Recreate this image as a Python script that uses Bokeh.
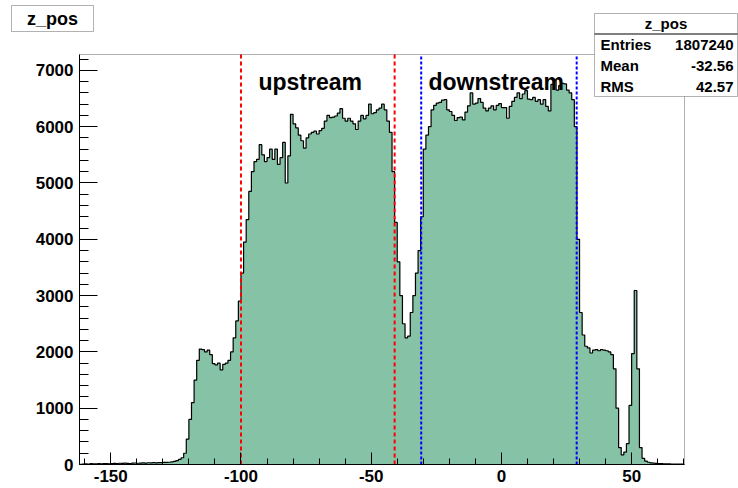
import numpy as np
from bokeh.plotting import figure
from bokeh.models import (Range1d, SingleIntervalTicker, Label, BoxAnnotation,
                          PrintfTickFormatter)
from bokeh.embed import file_html
from bokeh.resources import INLINE

# ---------------- data ----------------
z_low = -162.0        # lower edge of first bin
z_bin_width = 1.0

counts_left_tail = [4, 8, 11, 9, 14, 12, 10, 16, 13, 18,
                    15, 12, 17, 20, 16, 22, 19, 24, 21, 18,
                    23, 27, 22, 25, 29, 26, 31, 28, 33, 30,
                    35, 32, 37, 38]                                   # -162 .. -129
counts_upstream_a = [40, 45, 55, 70, 90, 120, 200, 450, 800, 1100,
                     1500, 1850, 2050, 2040, 2000, 2030, 1950, 1790, 1770, 1800,
                     1680, 1780, 1800, 1850, 2000, 2250, 2550, 2900, 3400, 3950,
                     4350, 4850, 5200, 5380, 5420, 5680, 5500, 5380, 5450, 5600,
                     5420, 5600, 5330, 5450, 5720, 5000, 5480, 6220, 6050]  # -128 .. -80
counts_upstream_b = [5980, 5850, 5750, 5620, 5800, 5870, 5900, 5920, 5870, 5930,
                     5970, 6100, 6200, 6160, 6170, 6190, 6240, 6320, 6150, 6100,
                     6150, 6100, 6050, 5950, 6100, 6200, 6140, 6200, 6400, 6230,
                     6250, 6300, 6330, 6400, 6300, 6100, 5900]        # -79 .. -43
counts_gap = [5200, 4300, 3600, 3000, 2500, 2250, 2280, 2700, 3000, 3400,
              3800, 4400, 5600]                                       # -42 .. -30
counts_downstream = [5850, 6000, 6300, 6380, 6420, 6430, 6470, 6480, 6300, 6270,
                     6200, 6110, 6160, 6170, 6120, 6260, 6370, 6600, 6400, 6420,
                     6500, 6430, 6330, 6280, 6330, 6370, 6300, 6380, 6410, 6340,
                     6340, 6150, 6360, 6450, 6520, 6600, 6500, 6580, 6640, 6490,
                     6480, 6520, 6450, 6480, 6400, 6480, 6360, 6280, 6750, 6830,
                     6650, 6730, 6770, 6760, 6650, 6600, 6480, 6000]  # -29 .. 28
counts_right = [4000, 2700, 2300, 2100, 2070, 1980, 2030, 2040, 2020, 2040,
                2030, 2020, 2000, 1950, 1700, 1000, 300, 170, 220, 370,
                1050, 1970, 3090, 1700, 300, 110, 60, 40, 30, 25,
                20, 18, 15, 12, 10, 10, 8, 8, 6, 5, 5]                # 29 .. 69

counts = (counts_left_tail + counts_upstream_a + counts_upstream_b +
          counts_gap + counts_downstream + counts_right)

x_axis_range = [-162.0, 70.3]
y_axis_range = [0.0, 7282.0]

upstream_edges = [-100.0, -41.0]
downstream_edges = [-30.8, 28.9]

stats_title = "z_pos"
stats_names = ["Entries", "Mean", "RMS"]
stats_values = ["1807240", "-32.56", "42.57"]

# ---------------- geometry (page pixels) ----------------
FONT = "Liberation Sans"
OFF = 0                              # canvas offset on the page
W, H = 738, 488
FR_L, FR_R, FR_T, FR_B = 79, 684, 54, 464   # ROOT-style frame on the page

ux = (FR_R - FR_L) / (x_axis_range[1] - x_axis_range[0])
uy = (FR_B - FR_T) / (y_axis_range[1] - y_axis_range[0])
x_start = x_axis_range[0] - (FR_L - OFF) / ux
x_end = x_axis_range[1] + (OFF + W - FR_R) / ux
y_end = y_axis_range[1] + (FR_T - OFF) / uy
y_start = y_axis_range[0] - (OFF + H - FR_B) / uy

def sx(px):
    return px - OFF

def sy(py):
    return OFF + H - py

edges = z_low + z_bin_width * np.arange(len(counts) + 1)
ys = np.array(counts + [counts[-1]], dtype=float)

p = figure(width=W, height=H,
           x_range=Range1d(x_start, x_end), y_range=Range1d(y_start, y_end),
           output_backend="svg", toolbar_location=None,
           min_border_left=0, min_border_right=0, min_border_top=0, min_border_bottom=0)
p.grid.visible = False
p.outline_line_color = None
p.background_fill_color = "white"
p.border_fill_color = "white"

p.varea_step(x=edges, y1=np.zeros(len(edges)), y2=ys, step_mode="after",
             fill_color="#85c2a6")
p.step(x=edges, y=ys, mode="after", line_color="black", line_width=1.2)

# ROOT frame
p.add_layout(BoxAnnotation(left=x_axis_range[0], right=x_axis_range[1],
                           bottom=y_axis_range[0], top=y_axis_range[1],
                           fill_color=None, line_color="black", line_width=1))

# axes, pinned to the frame edges
p.xaxis.fixed_location = y_axis_range[0]
p.yaxis.fixed_location = x_axis_range[0]
p.xaxis.bounds = tuple(x_axis_range)
p.yaxis.bounds = tuple(y_axis_range)
p.xaxis.ticker = SingleIntervalTicker(interval=50, num_minor_ticks=5)
p.yaxis.ticker = SingleIntervalTicker(interval=1000, num_minor_ticks=5)
for ax in (p.xaxis[0], p.yaxis[0]):
    ax.formatter = PrintfTickFormatter(format="%d")
    ax.axis_line_color = "black"
    ax.axis_line_width = 1
    ax.major_tick_line_color = "black"
    ax.minor_tick_line_color = "black"
    ax.major_tick_out = 0
    ax.minor_tick_out = 0
    ax.major_label_text_font = FONT
    ax.major_label_text_font_style = "bold"
    ax.major_label_text_font_size = "17px"
    ax.major_label_text_color = "black"
p.xaxis.major_tick_in = 12
p.xaxis.minor_tick_in = 6
p.yaxis.major_tick_in = 18
p.yaxis.minor_tick_in = 9
p.xaxis.major_label_standoff = 5
p.yaxis.major_label_standoff = 6

# region lines
p.segment(x0=upstream_edges, y0=[y_axis_range[0]] * 2, x1=upstream_edges,
          y1=[y_axis_range[1]] * 2, line_color="#ff0000", line_dash="4 3", line_width=2)
p.segment(x0=downstream_edges, y0=[y_axis_range[0]] * 2, x1=downstream_edges,
          y1=[y_axis_range[1]] * 2, line_color="#0000ff", line_dash="3 2", line_width=2)

p.add_layout(Label(x=-93.3, y=6800, text="upstream", text_font=FONT,
                   text_font_style="bold", text_font_size="23px",
                   text_baseline="alphabetic", text_color="black"))
p.add_layout(Label(x=-28.0, y=6800, text="downstream", text_font=FONT,
                   text_font_style="bold", text_font_size="23px",
                   text_baseline="alphabetic", text_color="black"))

def screen_box(l, r, t, b, **kw):
    return BoxAnnotation(left=sx(l), right=sx(r), top=sy(t), bottom=sy(b),
                         left_units="screen", right_units="screen",
                         top_units="screen", bottom_units="screen",
                         level="overlay", **kw)

def screen_label(x, y, text, size, align, **kw):
    return Label(x=sx(x), y=sy(y), x_units="screen", y_units="screen", text=text,
                 text_font=FONT, text_font_style="bold", text_font_size=size,
                 text_align=align, text_baseline="middle", text_color="black",
                 level="overlay", **kw)

# title box
p.add_layout(screen_box(11, 93, 5, 31, fill_color="white", fill_alpha=1.0,
                        line_color="black", line_width=1))
p.add_layout(screen_label(52, 18, "z_pos", "18px", "center"))

# stats box
SB_L, SB_R, SB_T, SB_B = 594, 737, 13, 96
p.add_layout(screen_box(SB_L, SB_R, SB_T, SB_B, fill_color="white", fill_alpha=1.0,
                        line_color="black", line_width=1))
p.add_layout(screen_box(SB_L, SB_R, 33, 34, fill_color="black", fill_alpha=1.0,
                        line_color=None))
p.add_layout(screen_label((SB_L + SB_R) / 2, 23, stats_title, "15px", "center"))
row_y = [44, 65, 86]
for name, val, ry in zip(stats_names, stats_values, row_y):
    p.add_layout(screen_label(SB_L + 6, ry, name, "15px", "left"))
    p.add_layout(screen_label(SB_R - 4, ry, val, "15px", "right"))

open("out.html", "w").write(file_html(p, INLINE))
